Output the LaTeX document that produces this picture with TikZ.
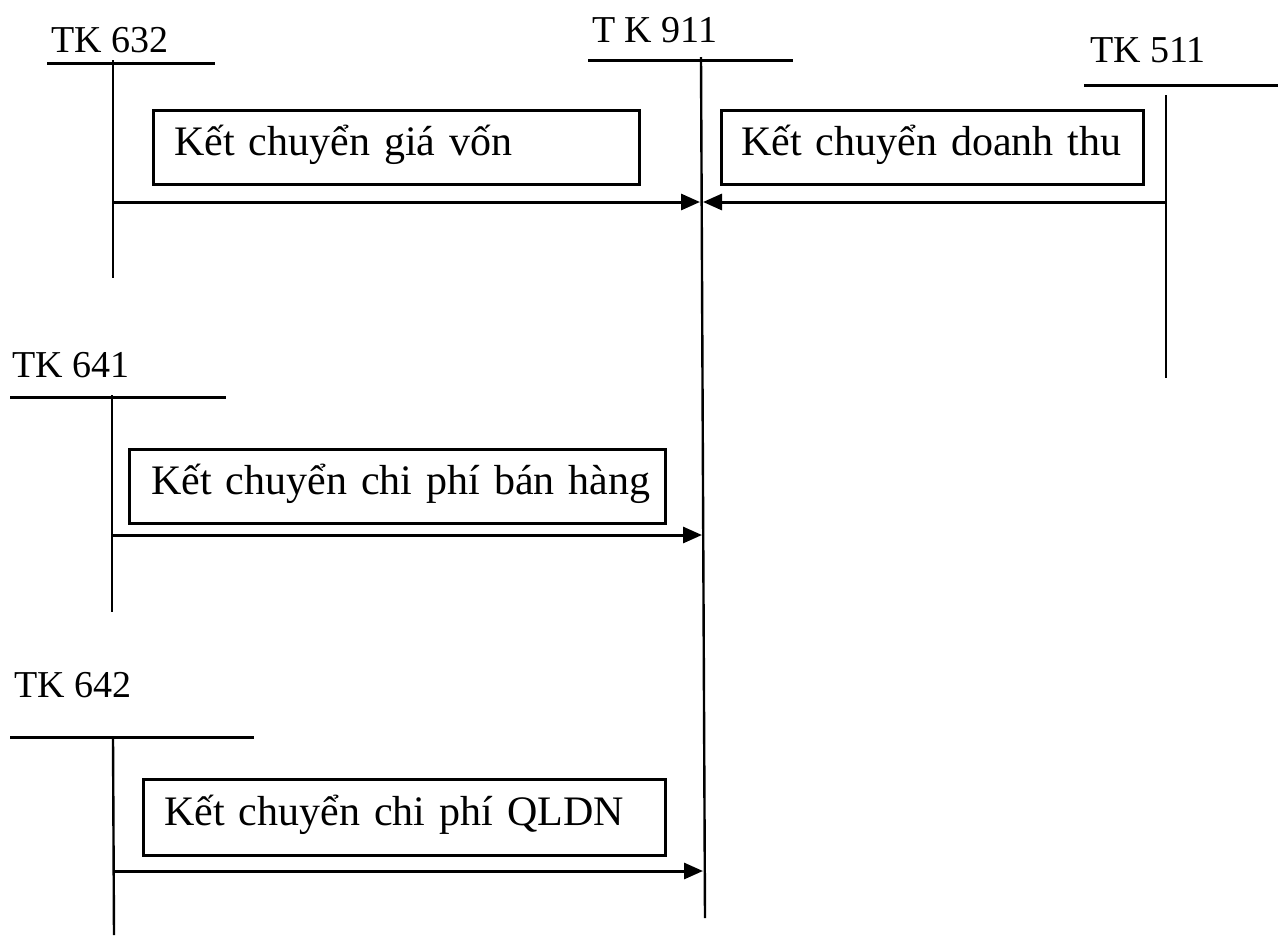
\documentclass[tikz,border=0pt]{standalone}
\usepackage{fontspec}
\setmainfont{Liberation Serif}
\usetikzlibrary{arrows.meta}
\begin{document}
\begin{tikzpicture}[x=1pt,y=-1pt,
  acct/.style={font=\fontsize{38}{46}\selectfont, anchor=base west, inner sep=0pt},
  tbar/.style={line width=3pt},
  tstem/.style={line width=2.4pt},
  memo/.style={draw, line width=2.7pt, anchor=north west, inner ysep=0pt,
    align=left, text height=29pt, text depth=13pt, font=\fontsize{42}{50}\selectfont},
  flow/.style={line width=3pt, -{Triangle[length=19pt,width=16pt]}}]
\useasboundingbox (0,0) rectangle (1280,935);

% account headings
\node[acct] (l632) at (51,52) {TK 632};
\node[acct] (l911) at (592,42) {T K 911};
\node[acct] (l511) at (1090,62) {TK 511};
\node[acct] (l641) at (12,377) {TK 641};
\node[acct] (l642) at (14,697) {TK 642};

% T-account bars and stems
\draw[tbar] (47,63) -- (215,63);
\draw[tstem] (113,60) -- (113,278);
\draw[tbar] (588,60) -- (793,60);
\draw[tstem] (701,57) coordinate (s911top) -- (705,918) coordinate (s911bot);
\draw[tbar] (1084,85) -- (1278,85);
\draw[tstem] (1166,95) -- (1166,378);
\draw[tbar] (10,397) -- (226,397);
\draw[tstem] (112,395) -- (112,612);
\draw[tbar] (10,737) -- (254,737);
\draw[tstem] (113,737) -- (114,935);

% transfer descriptions (single-line captions in fixed-size frames)
\node[memo, inner xsep=21pt, text width=444pt, minimum height=74pt] (m1) at (152,109) {\mbox{Kết chuyển giá vốn}};
\node[memo, inner xsep=20pt, text width=382pt, minimum height=74pt] (m2) at (720,109) {\mbox{Kết chuyển doanh thu}};
\node[memo, inner xsep=22pt, text width=492pt, minimum height=74pt] (m3) at (128,448) {\mbox{Kết chuyển chi phí bán hàng}};
\node[memo, inner xsep=21pt, text width=480pt, minimum height=76pt] (m4) at (142,778) {\mbox{Kết chuyển chi phí QLDN}};

% transfer arrows into TK 911
\coordinate (a1s) at (113,202);  \coordinate (a1e) at (700,202);
\coordinate (a2s) at (1166,202); \coordinate (a2e) at (703,202);
\coordinate (a3s) at (112,535);  \coordinate (a3e) at (702,535);
\coordinate (a4s) at (114,871);  \coordinate (a4e) at (703,871);
\draw[flow] (a1s) -- (a1e);
\draw[flow] (a2s) -- (a2e);
\draw[flow] (a3s) -- (a3e);
\draw[flow] (a4s) -- (a4e);
\end{tikzpicture}
\end{document}
